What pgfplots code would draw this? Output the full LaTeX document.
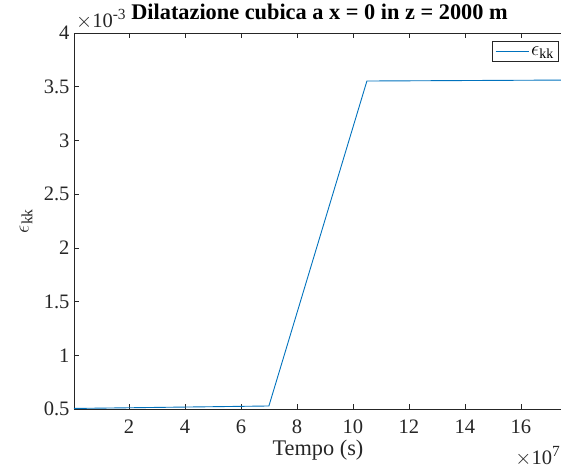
\documentclass[border=0pt]{standalone}
\usepackage{fontspec}
\setmainfont{Liberation Serif}
\usepackage{pgfplots}
\pgfplotsset{compat=1.18}
\definecolor{mblue}{rgb}{0,0.447,0.741}
\definecolor{axgray}{gray}{0.15}
\newcommand{\expo}[1]{\raisebox{0.42em}{\fontsize{15.5}{16}\selectfont #1}}
\newcommand{\tck}{\fontsize{20.6}{22}\selectfont}
\newcommand{\lbl}{\fontsize{22.4}{24}\selectfont}

\begin{document}
\begin{tikzpicture}[x=1bp,y=1bp]
\path[use as bounding box] (-74,-62) rectangle (487,409);
\begin{axis}[
  at={(0,0)}, anchor=south west,
  scale only axis, width=492bp, height=376bp,
  xmin=0.04, xmax=17.61, ymin=0.5, ymax=4,
  xtick={2,4,...,16}, ytick={0.5,1,...,4},
  yticklabels={0.5,1,1.5,2,2.5,3,3.5,4},
  scaled ticks=false,
  /pgf/number format/assume math mode=true,
  tick align=inside,
  major tick length=5bp,
  axis line style={axgray, line width=0.6bp},
  every tick/.style={axgray, line width=0.6bp},
  tick label style={font=\tck, text=axgray},
  xticklabel style={yshift=-7bp},
  yticklabel style={xshift=-1bp},
  legend style={at={(0.9858,1)}, anchor=north east, yshift=-8bp,
    draw=axgray, line width=0.6bp,
    nodes={font=\fontsize{20}{21}\selectfont},
    inner xsep=3bp, inner ysep=3bp, row sep=0pt},
  legend cell align=left,
  legend image code/.code={\draw[#1] (0bp,0bp) -- (33bp,0bp);},
]
\addplot[mblue, line width=0.9bp] coordinates {
  (0.04,0.505) (7.0,0.528) (10.5,3.553) (17.61,3.562)
};
\addlegendentry{$\epsilon_{\mathrm{kk}}$\hspace{6bp}}
\end{axis}
\node[anchor=base west, text=axgray, font=\tck, inner sep=0] at (2,381) {$\times$10\expo{-3}};
\node[anchor=base, font=\bfseries\lbl, inner sep=0] at (245.5,389) {Dilatazione cubica a x = 0 in z = 2000 m};
\node[anchor=base, text=axgray, font=\lbl, inner sep=0] at (244,-47) {Tempo (s)};
\node[anchor=base east, text=axgray, font=\tck, inner sep=0] at (486,-56) {$\times$10\expo{7}};
\node[rotate=90, anchor=center, text=axgray, font=\lbl, inner sep=0] at (-48,188) {$\epsilon_{\mathrm{kk}}$};
\end{tikzpicture}
\end{document}
